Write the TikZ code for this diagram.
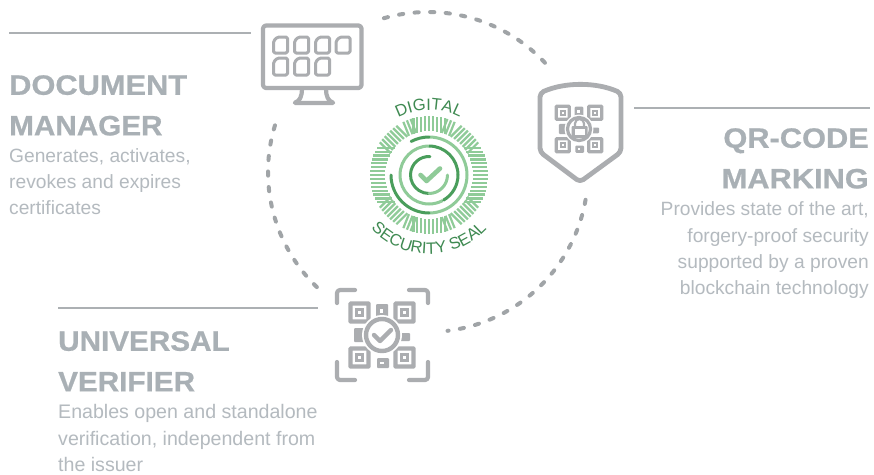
\documentclass[tikz,border=0pt]{standalone}
\usepackage{fontspec}
\setmainfont{Liberation Sans}
\usetikzlibrary{decorations.text}
\definecolor{rulegrey}{HTML}{ACB0B3}
\definecolor{headgrey}{HTML}{A9B0B5}
\definecolor{bodygrey}{HTML}{B4BABF}
\definecolor{icongrey}{HTML}{ABADB0}
\definecolor{dotgrey}{HTML}{A0A4A7}
\definecolor{sealdark}{HTML}{4A9E5C}
\definecolor{seallight}{HTML}{8FCB98}
\definecolor{sealtext}{HTML}{3F8A52}
\newfontfamily\headfont[FakeStretch=1.1,FakeBold=0.7]{Liberation Sans Bold}
\newfontfamily\headnarrow[FakeStretch=1.06,FakeBold=0.7]{Liberation Sans Bold}
\newcommand{\sealfont}{\fontsize{16.5}{16.5}\selectfont\color{sealtext}}
\newcommand{\qrlw}{4pt}
\tikzset{
  rulestyle/.style={draw=rulegrey,line width=1.6pt},
  headstyle/.style={text=headgrey,inner sep=0pt,font=\headfont\fontsize{28}{40.6}\selectfont},
  headtight/.style={text=headgrey,inner sep=0pt,font=\headnarrow\fontsize{28}{40.6}\selectfont},
  bodystyle/.style={text=bodygrey,inner sep=0pt,font=\fontsize{19.2}{26.4}\selectfont},
  bodywide/.style={text=bodygrey,inner sep=0pt,font=\fontsize{19.6}{26.4}\selectfont},
  dotted arc/.style={draw=dotgrey,line width=4pt,line cap=round,dash pattern=on 4.2pt off 11.4pt},
  iconline/.style={draw=icongrey,line width=4.2pt,line cap=round,line join=round},
  iconthin/.style={draw=icongrey,line width=3pt,line join=round},
  qrgroup/.pic={
    \foreach \sx in {-1,1}{\foreach \sy in {-1,1}{
      \draw[icongrey,line width=\qrlw,rounded corners=0.6pt] (\sx*13.5,\sy*13.5) rectangle (\sx*31.5,\sy*31.5);
      \fill[icongrey] (\sx*18,\sy*18) rectangle (\sx*27,\sy*27);
      \fill[white] (\sx*21,\sy*21) rectangle (\sx*24,\sy*24);
    }}
    \fill[icongrey,rounded corners=1pt] (-5,-33) rectangle (7,-23);
    \fill[white] (-2,-29) rectangle (2,-26.5);
    \fill[icongrey,rounded corners=1pt] (-28,-7) rectangle (-14,7);
    \fill[icongrey,rounded corners=1pt] (14,-6) rectangle (28,2);
    \fill[icongrey,rounded corners=1pt] (-6,14) rectangle (6,31);
    \fill[white] (-2.5,22) rectangle (1,26);
    \fill[white] (0,0) circle (20);
    \draw[icongrey,line width=\qrlw] (0,0) circle (16);
  }
}
\begin{document}
\begin{tikzpicture}[x=1pt,y=1pt,yscale=-1]
\useasboundingbox (0,0) rectangle (874,474);
\fill[white] (0,0) rectangle (874,474);

% circle of dots
\coordinate (hub) at (428,172);
\draw[dotted arc] (hub) ++(-106:160) arc (-106:-41:160);
\draw[dotted arc] (hub) ++(10:160) arc (10:83:160);
\draw[dotted arc] (hub) ++(134:160) arc (134:197:160);

% rules
\coordinate (r1a) at (9,33); \coordinate (r1b) at (251,33);
\coordinate (r2a) at (634,108); \coordinate (r2b) at (870,108);
\coordinate (r3a) at (58,308); \coordinate (r3b) at (318,308);
\draw[rulestyle] (r1a) -- (r1b);
\draw[rulestyle] (r2a) -- (r2b);
\draw[rulestyle] (r3a) -- (r3b);

% headings and copy
\node[headstyle,anchor=north west,align=left] (dochead) at (9,75) {DOCUMENT\\{\headnarrow MANAGER}};
\node[bodystyle,anchor=north west,align=left] (docbody) at (9,148) {Generates, activates,\\revokes and expires\\certificates};
\node[headstyle,anchor=north east,align=right] (qrhead) at (869,128) {QR-CODE\\MARKING};
\node[bodystyle,anchor=north east,align=right] (qrbody) at (869,201.5) {Provides state of the art,\\forgery-proof security\\supported by a proven\\blockchain technology};
\node[headtight,anchor=north west,align=left] (unihead) at (58,331) {UNIVERSAL\\VERIFIER};
\node[bodywide,anchor=north west,align=left] (unibody) at (58,404.5) {Enables open and standalone\\verification, independent from\\the issuer};

% monitor
\draw[iconline,rounded corners=3pt] (263,25.5) rectangle (361.5,88);
\draw[iconline,rounded corners=1pt] (302,89) .. controls (302,96) and (300,101) .. (294,103) -- (334,103) .. controls (328,101) and (326,96) .. (326,89);
\foreach \x in {273.5,294.5,315.5,336} {
  \draw[iconthin,rounded corners=1.5pt] (\x,53) -- (\x,41) -- (\x+4,37) -- (\x+14,37) -- (\x+14,53) -- cycle;
}
\foreach \x in {273.5,294.5,315.5} {
  \draw[iconthin,rounded corners=1.5pt] (\x,75) -- (\x,62) -- (\x+4,58) -- (\x+14,58) -- (\x+14,75) -- cycle;
}

% shield
\draw[iconline,line width=4.8pt,rounded corners=4pt] (540,93) .. controls (565,82) and (596,82) .. (621,93) -- (621,152) -- (580,182) -- (540,152) -- cycle;
\renewcommand{\qrlw}{3.2pt}
\pic[scale=0.72] at (579,129) {qrgroup};
\fill[icongrey,rounded corners=1pt] (571.5,126) rectangle (587.5,138);
\fill[white] (574.5,129) rectangle (584.5,135);
\draw[icongrey,line width=2.2pt] (575,127) -- (575,123.5) arc (180:360:4.5) -- (584,127);

% universal verifier
\renewcommand{\qrlw}{4.4pt}
\pic at (382,335) {qrgroup};
\draw[iconline,line width=4.4pt] (374,335) -- (380,341) -- (391,330);
\draw[iconline,rounded corners=3pt] (337,303) -- (337,290) -- (355,290);
\draw[iconline,rounded corners=3pt] (409,290) -- (428,290) -- (428,303);
\draw[iconline,rounded corners=3pt] (337,362) -- (337,380) -- (355,380);
\draw[iconline,rounded corners=3pt] (409,380) -- (428,380) -- (428,362);

% seal (local axes: y upward)
\begin{scope}[shift={(429,175)},yscale=-1]
  \foreach \rot/\lim in {90/17,270/17,0/28,180/28,45/15,135/15,225/15,315/15,68/4,112/4,248/4,292/4} {
    \begin{scope}[rotate=\rot]
      \foreach \d in {-31.2,-27.3,...,31.3} {
        \pgfmathsetmacro{\on}{abs(\d)<=\lim ? 1 : 0}
        \ifdim\on pt>0.5pt
          \pgfmathsetmacro{\xa}{sqrt(44*44-\d*\d)}
          \pgfmathsetmacro{\xb}{sqrt(59*59-\d*\d)}
          \draw[seallight,line width=2.2pt] (\xa,\d) -- (\xb,\d);
        \fi
      }
    \end{scope}
  }
  \draw[seallight,line width=3pt] (90:38) arc (90:-90:38);
  \draw[sealdark,line width=3pt,line cap=round] (118:38) arc (118:90:38);
  \draw[sealdark,line width=3pt,line cap=round] (180:38) arc (180:270:38);
  \draw[seallight,line width=3pt] (90:29) arc (90:270:29);
  \draw[seallight,line width=3pt] (270:29) arc (270:298:29);
  \draw[sealdark,line width=3pt] (90:29) arc (90:0:29);
  \draw[sealdark,line width=3pt,line cap=round] (0:29) arc (0:-60:29);
  \draw[sealdark,line width=3pt,line cap=round] (87:18.5) arc (87:270:18.5);
  \draw[seallight,line width=3pt,line cap=round] (270:18.5) arc (270:360:18.5);
  \draw[seallight,line width=4.6pt,line cap=round,line join=round] (-8.5,0) -- (-2.5,-6) -- (11,6.5);
  \path[postaction={decorate,decoration={text along path,text align=center,text={|\sealfont|DIGITAL}}}] (135:65) arc (135:45:65);
  \path[postaction={decorate,decoration={text along path,text align=center,text={|\sealfont|SECURITY SEAL}}}] (205:79) arc (205:335:79);
\end{scope}
\end{tikzpicture}
\end{document}
